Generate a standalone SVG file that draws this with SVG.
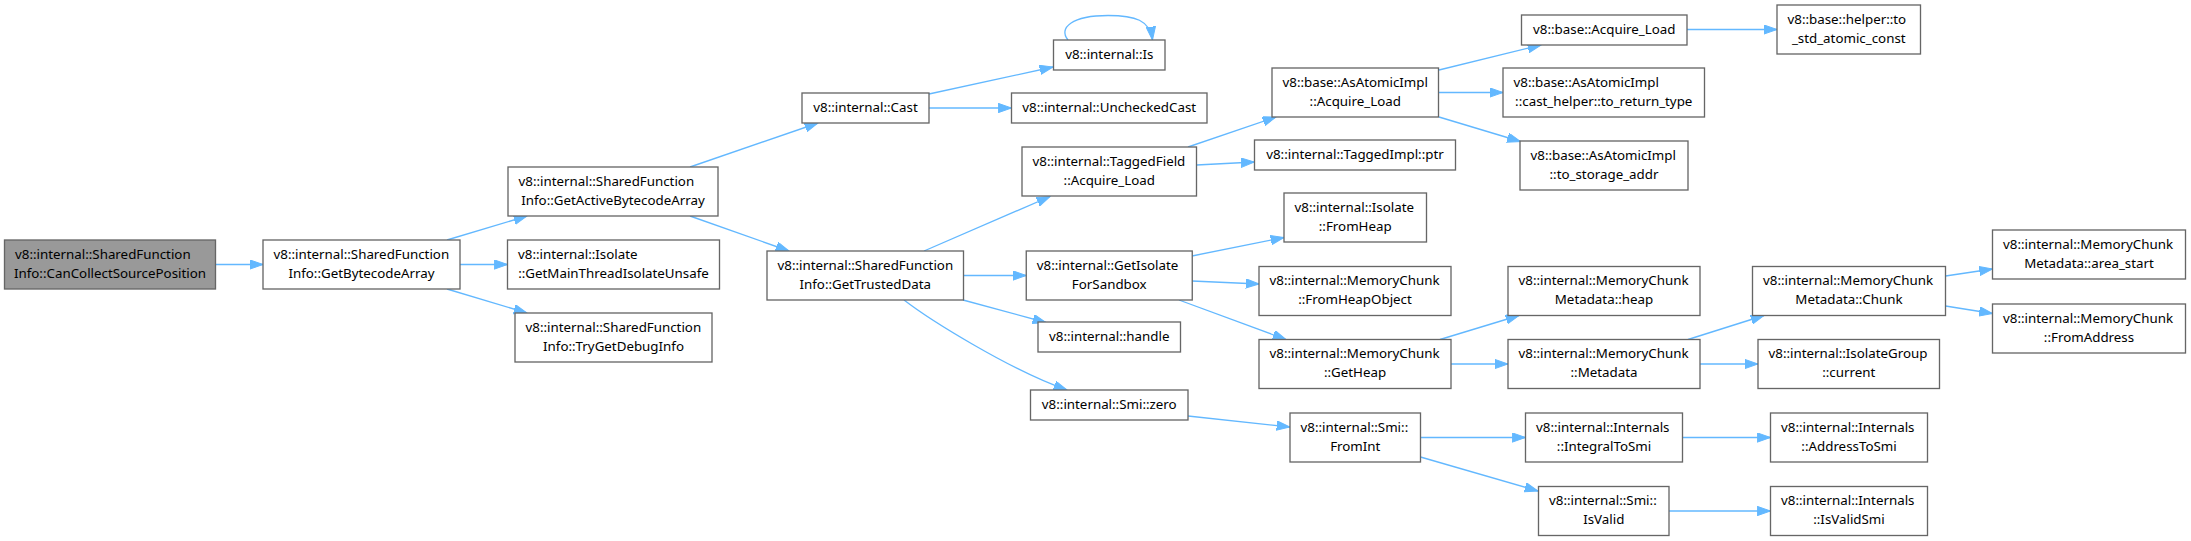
<svg xmlns="http://www.w3.org/2000/svg" width="2191" height="541" viewBox="0 0 2191 541">
<style>
.n rect{fill:#fff;stroke:#666;stroke-width:1.33}
.n.root rect{fill:#999}
text{font-family:"Noto Sans","Liberation Sans",sans-serif;font-size:13.33px;fill:#000}
.s{text-anchor:start}.m{text-anchor:middle}
.e path{stroke:#63b8ff;stroke-width:1.33;fill:none;marker-end:url(#a)}
</style>
<defs>
<marker id="a" markerUnits="userSpaceOnUse" markerWidth="14" markerHeight="10" refX="13.3" refY="4.67" orient="auto">
<path d="M0,0 L13.3,4.67 L0,9.33 z" fill="#63b8ff" stroke="#63b8ff" stroke-width="1"/>
</marker>
</defs>
<rect width="2191" height="541" fill="#fff"/>
<g id="edges" class="e">
<path d="M216,264.5 L263,264.5"/>
<path d="M447,240 L527,216"/>
<path d="M460,264.5 L507.5,264.5"/>
<path d="M447,289 L527,313"/>
<path d="M690,167 L818,123"/>
<path d="M690,216 L789,251"/>
<path d="M929,94 L1053,67"/>
<path d="M929,108 L1011.5,108"/>
<path d="M1068,40 C1058,28 1072,15.5 1108,15.5 C1135,15.5 1150,20 1152.5,40"/>
<path d="M924,251 L1050,196.5"/>
<path d="M963.5,275.5 L1026.25,275.5"/>
<path d="M963,300 L1046,322.5"/>
<path d="M904,300 C930,320 1010,370 1067,390"/>
<path d="M1188,147 L1276,117"/>
<path d="M1196.5,165 L1254.5,162"/>
<path d="M1192,256 L1284,237.5"/>
<path d="M1192,281 L1259,284"/>
<path d="M1179,300 L1286,339.5"/>
<path d="M1188,416 L1290,427"/>
<path d="M1439,70 L1541,45"/>
<path d="M1438.5,92.5 L1503,92.5"/>
<path d="M1439,117 L1520.5,141.5"/>
<path d="M1687,29.5 L1777,29.5"/>
<path d="M1440,339.5 L1519,315.5"/>
<path d="M1451,364 L1508,364"/>
<path d="M1688,339.5 L1764,315.5"/>
<path d="M1700,364 L1758,364"/>
<path d="M1945.5,276 L1992.5,269"/>
<path d="M1945.5,306 L1992.5,313.5"/>
<path d="M1420.5,437.5 L1525.5,437.5"/>
<path d="M1420.5,457 L1538,491"/>
<path d="M1682.5,437.5 L1770.5,437.5"/>
<path d="M1669,511 L1770.5,511"/>
</g>
<g id="n1" class="n root"><rect x="4.5" y="240" width="211" height="49"/><text class="s" x="15" y="258.5">v8::internal::SharedFunction</text><text class="m" x="110" y="277.5">Info::CanCollectSourcePosition</text></g>
<g id="n2" class="n"><rect x="263" y="240" width="197" height="49"/><text class="s" x="273.5" y="258.5">v8::internal::SharedFunction</text><text class="m" x="361.5" y="277.5">Info::GetBytecodeArray</text></g>
<g id="n3" class="n"><rect x="508" y="167" width="210" height="49"/><text class="s" x="518.5" y="185.5">v8::internal::SharedFunction</text><text class="m" x="613" y="204.5">Info::GetActiveBytecodeArray</text></g>
<g id="n4" class="n"><rect x="507.5" y="240" width="212" height="49"/><text class="s" x="518" y="258.5">v8::internal::Isolate</text><text class="m" x="613.5" y="277.5">::GetMainThreadIsolateUnsafe</text></g>
<g id="n5" class="n"><rect x="515" y="313" width="197" height="49"/><text class="s" x="525.5" y="331.5">v8::internal::SharedFunction</text><text class="m" x="613.5" y="350.5">Info::TryGetDebugInfo</text></g>
<g id="n6" class="n"><rect x="802" y="93" width="127" height="30"/><text class="m" x="865.5" y="112">v8::internal::Cast</text></g>
<g id="n7" class="n"><rect x="1053.5" y="40" width="111.5" height="30"/><text class="m" x="1109.25" y="58.5">v8::internal::Is</text></g>
<g id="n8" class="n"><rect x="1011.5" y="93" width="195.5" height="30"/><text class="m" x="1109.25" y="112">v8::internal::UncheckedCast</text></g>
<g id="n9" class="n"><rect x="767" y="251" width="196.5" height="49"/><text class="s" x="777.5" y="269.5">v8::internal::SharedFunction</text><text class="m" x="865.25" y="288.5">Info::GetTrustedData</text></g>
<g id="n10" class="n"><rect x="1022" y="147" width="174.5" height="49"/><text class="s" x="1032.5" y="165.5">v8::internal::TaggedField</text><text class="m" x="1109.25" y="184.5">::Acquire_Load</text></g>
<g id="n11" class="n"><rect x="1026.25" y="251" width="166" height="49"/><text class="s" x="1036.75" y="269.5">v8::internal::GetIsolate</text><text class="m" x="1109.25" y="288.5">ForSandbox</text></g>
<g id="n12" class="n"><rect x="1038" y="322" width="142.5" height="30"/><text class="m" x="1109.25" y="341">v8::internal::handle</text></g>
<g id="n13" class="n"><rect x="1030.5" y="390" width="157.5" height="30"/><text class="m" x="1109.25" y="409">v8::internal::Smi::zero</text></g>
<g id="n14" class="n"><rect x="1272" y="68" width="166.5" height="49"/><text class="s" x="1282.5" y="86.5">v8::base::AsAtomicImpl</text><text class="m" x="1355.25" y="105.5">::Acquire_Load</text></g>
<g id="n15" class="n"><rect x="1254.5" y="140" width="201" height="30"/><text class="m" x="1355" y="159">v8::internal::TaggedImpl::ptr</text></g>
<g id="n16" class="n"><rect x="1284" y="193" width="142.5" height="49"/><text class="s" x="1294.5" y="211.5">v8::internal::Isolate</text><text class="m" x="1355.25" y="230.5">::FromHeap</text></g>
<g id="n17" class="n"><rect x="1259" y="266.5" width="192" height="49"/><text class="s" x="1269.5" y="285">v8::internal::MemoryChunk</text><text class="m" x="1355" y="304">::FromHeapObject</text></g>
<g id="n18" class="n"><rect x="1259" y="339.5" width="192" height="49"/><text class="s" x="1269.5" y="358">v8::internal::MemoryChunk</text><text class="m" x="1355" y="377">::GetHeap</text></g>
<g id="n19" class="n"><rect x="1290" y="413" width="130.5" height="49"/><text class="s" x="1300.5" y="431.5">v8::internal::Smi::</text><text class="m" x="1355.25" y="450.5">FromInt</text></g>
<g id="n20" class="n"><rect x="1521.5" y="15" width="165.5" height="30"/><text class="m" x="1604.25" y="34">v8::base::Acquire_Load</text></g>
<g id="n21" class="n"><rect x="1777" y="5" width="143.5" height="49"/><text class="s" x="1787.5" y="23.5">v8::base::helper::to</text><text class="m" x="1848.75" y="42.5">_std_atomic_const</text></g>
<g id="n22" class="n"><rect x="1503" y="68" width="201.5" height="49"/><text class="s" x="1513.5" y="86.5">v8::base::AsAtomicImpl</text><text class="m" x="1603.75" y="105.5">::cast_helper::to_return_type</text></g>
<g id="n23" class="n"><rect x="1520" y="141" width="168" height="49"/><text class="s" x="1530.5" y="159.5">v8::base::AsAtomicImpl</text><text class="m" x="1604" y="178.5">::to_storage_addr</text></g>
<g id="n24" class="n"><rect x="1508" y="266.5" width="192" height="49"/><text class="s" x="1518.5" y="285">v8::internal::MemoryChunk</text><text class="m" x="1604" y="304">Metadata::heap</text></g>
<g id="n25" class="n"><rect x="1752.5" y="266.5" width="193" height="49"/><text class="s" x="1763" y="285">v8::internal::MemoryChunk</text><text class="m" x="1849" y="304">Metadata::Chunk</text></g>
<g id="n26" class="n"><rect x="1508" y="339.5" width="192" height="49"/><text class="s" x="1518.5" y="358">v8::internal::MemoryChunk</text><text class="m" x="1604" y="377">::Metadata</text></g>
<g id="n27" class="n"><rect x="1758" y="339.5" width="181.5" height="49"/><text class="s" x="1768.5" y="358">v8::internal::IsolateGroup</text><text class="m" x="1848.75" y="377">::current</text></g>
<g id="n28" class="n"><rect x="1992.5" y="230" width="193" height="49"/><text class="s" x="2003" y="248.5">v8::internal::MemoryChunk</text><text class="m" x="2089" y="267.5">Metadata::area_start</text></g>
<g id="n29" class="n"><rect x="1992.5" y="304" width="193" height="49"/><text class="s" x="2003" y="322.5">v8::internal::MemoryChunk</text><text class="m" x="2089" y="341.5">::FromAddress</text></g>
<g id="n30" class="n"><rect x="1525.5" y="413" width="157" height="49"/><text class="s" x="1536" y="431.5">v8::internal::Internals</text><text class="m" x="1604" y="450.5">::IntegralToSmi</text></g>
<g id="n31" class="n"><rect x="1770.5" y="413" width="157" height="49"/><text class="s" x="1781" y="431.5">v8::internal::Internals</text><text class="m" x="1849" y="450.5">::AddressToSmi</text></g>
<g id="n32" class="n"><rect x="1538.5" y="486.5" width="130.5" height="49"/><text class="s" x="1549" y="505">v8::internal::Smi::</text><text class="m" x="1603.75" y="524">IsValid</text></g>
<g id="n33" class="n"><rect x="1770.5" y="486.5" width="157" height="49"/><text class="s" x="1781" y="505">v8::internal::Internals</text><text class="m" x="1849" y="524">::IsValidSmi</text></g>
</svg>
